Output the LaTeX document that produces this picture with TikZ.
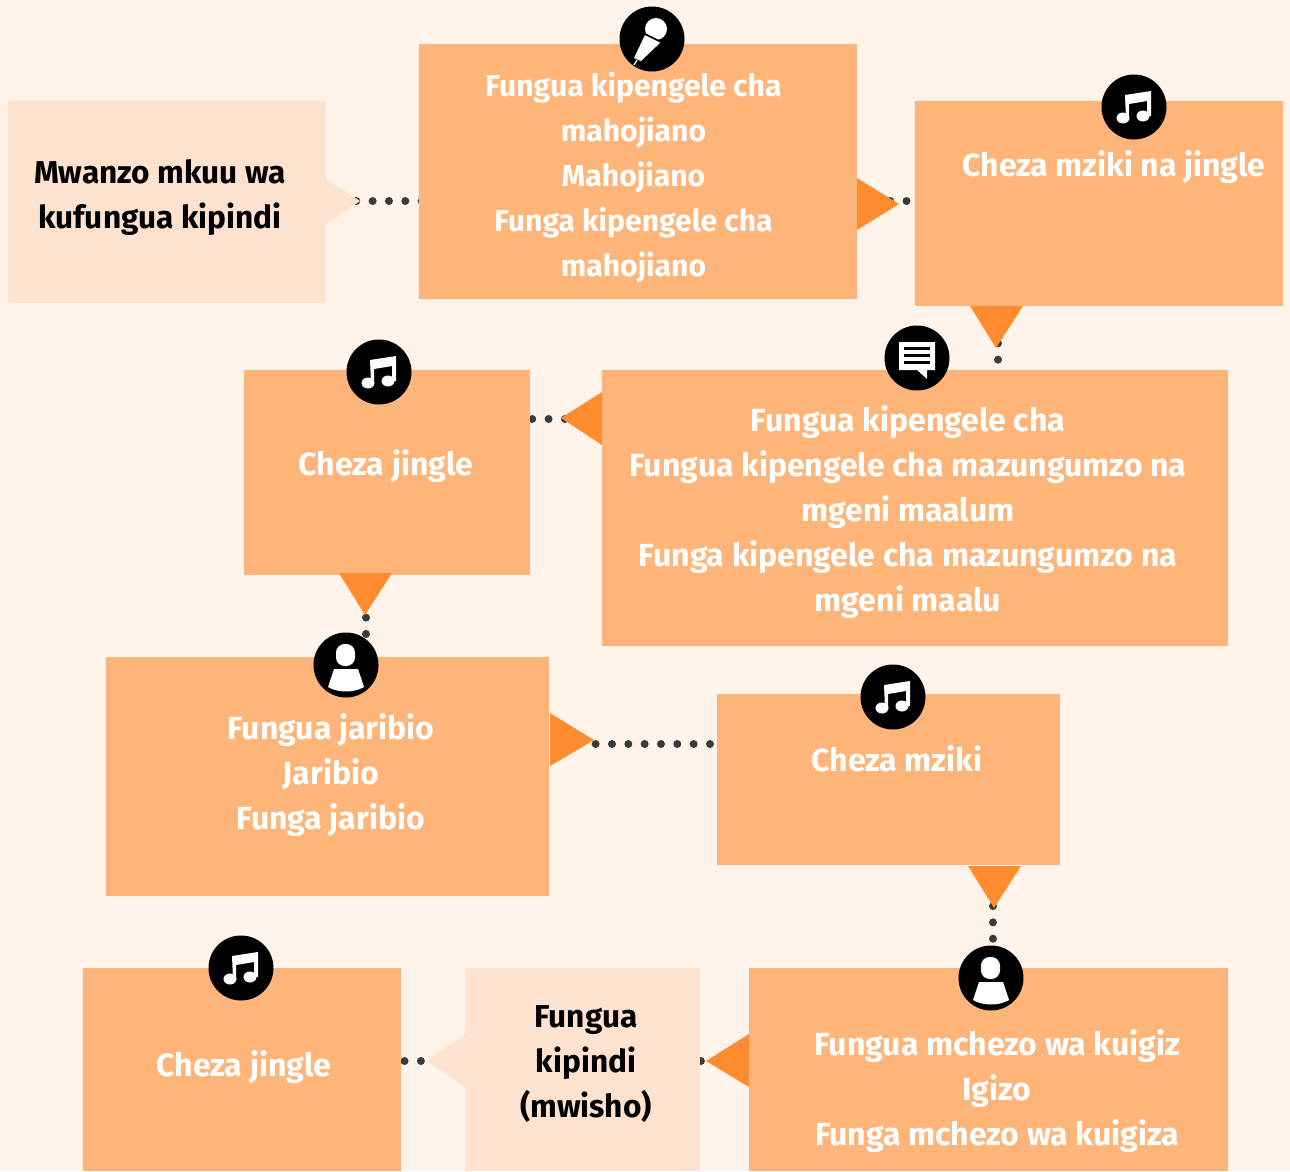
\documentclass[tikz,border=0pt]{standalone}
\usepackage{fontspec}
\setmainfont{Fira Sans}
\usetikzlibrary{backgrounds}
\definecolor{pagecol}{HTML}{FFF3EA}
\definecolor{softcol}{HTML}{FDE3CF}
\definecolor{boxcol}{HTML}{FFB479}
\definecolor{tipcol}{HTML}{FF8C2E}
\definecolor{dotcol}{HTML}{3A3A3A}
\newcommand{\px}{0.75pt}

\begin{document}
\begin{tikzpicture}
    %one unit is one pixel, y runs down
    [
        x=0.75pt, y=-0.75pt,
        softbox/.style={rectangle, anchor=north west, inner sep=0, fill=softcol},
        mainbox/.style={rectangle, anchor=north west, inner sep=0, fill=boxcol},
        whitetext/.style={text=white, font=\fontsize{24}{33.75}\selectfont\bfseries, align=center},
        tighttext/.style={text=white, font=\fontsize{22.6}{33.75}\selectfont\bfseries, align=center},
        blacktext/.style={text=black, font=\fontsize{23.7}{33.75}\selectfont\bfseries, align=center},
        tip/.style={fill=tipcol},
        softtip/.style={fill=softcol},
        dotline/.style={dotcol, line width=6pt, line cap=round, dash pattern=on 0pt off 12.25pt, dash phase=#1*0.75pt, shorten >=-3pt},
        badge/.style={circle, fill=black, inner sep=0, minimum size=48.75pt},
        noteicon/.pic={
            \fill[white] (-11,11) ellipse [x radius=6.5, y radius=5.5];
            \fill[white] (9,9) ellipse [x radius=6.5, y radius=5.5];
            \fill[white] (-8,11) -- (-9,-12) -- (17,-16) -- (17,9) -- (13,9) -- (13,-6) -- (-5,-3) -- (-5,11) -- cycle;
        },
        micicon/.pic={
            \fill[white] (4,-10) circle [radius=11];
            \fill[white] (-7,-4) -- (9,3) -- (-11,22) -- (-18,19) -- cycle;
            \draw[white, line width=1pt] (-15,21) -- (-18,26);
            \draw[black, line width=1.2pt] (-7,-5) -- (9,3);
        },
        talkicon/.pic={
            \fill[white] (-18,-16) -- (18,-16) -- (18,12) -- (10,12) -- (10,21) -- (0,12) -- (-18,12) -- cycle;
            \fill[black] (-13,-11) rectangle (13,-8);
            \fill[black] (-13,-4) rectangle (13,-1);
            \fill[black] (-13,3) rectangle (13,6);
        },
        personicon/.pic={
            \fill[white, rounded corners=6.5pt] (-10,-21) rectangle (9,1);
            \fill[white] (-12,4) -- (12,4) -- (18,22) .. controls (8,28) and (-8,28) .. (-18,22) -- cycle;
        },
    ]
    %the boxes
    \node (intro) at (8,101) [softbox, minimum width=318*\px, minimum height=202*\px] {};
    \node (interview) at (419,44) [mainbox, minimum width=438*\px, minimum height=255*\px] {};
    \node (musicjingle) at (915,101) [mainbox, minimum width=368*\px, minimum height=205*\px] {};
    \node (guest) at (602,370) [mainbox, minimum width=626*\px, minimum height=276*\px] {};
    \node (jingleone) at (244,370) [mainbox, minimum width=286*\px, minimum height=205*\px] {};
    \node (quiz) at (106,657) [mainbox, minimum width=443*\px, minimum height=239*\px] {};
    \node (music) at (717,694) [mainbox, minimum width=343*\px, minimum height=171*\px] {};
    \node (drama) at (749,968) [mainbox, minimum width=479*\px, minimum height=203*\px] {};
    \node (outro) at (465,968) [softbox, minimum width=235*\px, minimum height=203*\px] {};
    \node (jingletwo) at (83,968) [mainbox, minimum width=318*\px, minimum height=203*\px] {};

    %page and dots go behind the boxes
    \begin{scope}[on background layer]
        \fill[pagecol] (0,0) rectangle (1290,1171);
        \draw[dotline=2.9] (intro.east |- 0,201) -- (interview.west |- 0,201);
        \draw[dotline=0] (interview.east |- 0,201) -- (musicjingle.west |- 0,201);
        \draw[dotline=12.2] (musicjingle.south -| 998,0) -- (guest.north -| 998,0);
        \draw[dotline=11.9] (guest.west |- 0,419) -- (jingleone.east |- 0,419);
        \draw[dotline=6.9] (jingleone.south -| 366,0) -- (quiz.north -| 366,0);
        \draw[dotline=2.9] (quiz.east |- 0,744) -- (music.west |- 0,744);
        \draw[dotline=8.5] (music.south -| 993,0) -- (drama.north -| 993,0);
        \draw[dotline=0.9] (drama.west |- 0,1061) -- (outro.east |- 0,1061);
        \draw[dotline=4.9] (outro.west |- 0,1061) -- (jingletwo.east |- 0,1061);
    \end{scope}

    %triangles on the box edges
    \fill[softtip] (326,179) -- (360,201) -- (326,224) -- cycle;
    \fill[tip] (857,178) -- (899,204) -- (857,230) -- cycle;
    \fill[tip] (970,306) -- (1023,306) -- (996,348) -- cycle;
    \fill[tip] (602,392) -- (561,418) -- (602,445) -- cycle;
    \fill[tip] (339,573) -- (392,573) -- (365,615) -- cycle;
    \fill[tip] (550,713) -- (594,740) -- (550,766) -- cycle;
    \fill[tip] (968,866) -- (1021,866) -- (994,908) -- cycle;
    \fill[tip] (749,1034) -- (706,1061) -- (749,1087) -- cycle;
    \fill[softtip] (465,1034) -- (427,1061) -- (465,1087) -- cycle;

    %labels
    \node (introtext) at (160,197.5) [blacktext] {Mwanzo mkuu wa\\kufungua kipindi};
    \node (interviewtext) at (633.5,178) [tighttext] {Fungua kipengele cha\\mahojiano\\Mahojiano\\Funga kipengele cha\\mahojiano};
    \node (musicjingletext) at (1114,167) [whitetext] {Cheza mziki na jingle};
    \node (guesttext) at (908,512.5) [whitetext] {Fungua kipengele cha\\Fungua kipengele cha mazungumzo na\\mgeni maalum\\Funga kipengele cha mazungumzo na\\mgeni maalu};
    \node (jingleonetext) at (386,466.5) [whitetext] {Cheza jingle};
    \node (quiztext) at (331,775.5) [whitetext] {Fungua jaribio\\Jaribio\\Funga jaribio};
    \node (musictext) at (897,759) [whitetext] {Cheza mziki};
    \node (dramatext) at (997,1091.5) [whitetext] {Fungua mchezo wa kuigiz\\Igizo\\Funga mchezo wa kuigiza};
    \node (outrotext) at (586,1064) [blacktext] {Fungua\\kipindi\\(mwisho)};
    \node (jingletwotext) at (244,1067.5) [whitetext] {Cheza jingle};

    %round badges
    \node (interviewbadge) at (652,39) [badge] {};
    \node (musicjinglebadge) at (1134,107) [badge] {};
    \node (guestbadge) at (917,358) [badge] {};
    \node (jingleonebadge) at (379,372) [badge] {};
    \node (quizbadge) at (346,665) [badge] {};
    \node (musicbadge) at (893,697) [badge] {};
    \node (dramabadge) at (991,978) [badge] {};
    \node (jingletwobadge) at (241,968) [badge] {};
    \pic at (interviewbadge) {micicon};
    \pic at (musicjinglebadge) {noteicon};
    \pic at (guestbadge) {talkicon};
    \pic at (jingleonebadge) {noteicon};
    \pic at (quizbadge) {personicon};
    \pic at (musicbadge) {noteicon};
    \pic at (dramabadge) {personicon};
    \pic at (jingletwobadge) {noteicon};
\end{tikzpicture}
\end{document}
